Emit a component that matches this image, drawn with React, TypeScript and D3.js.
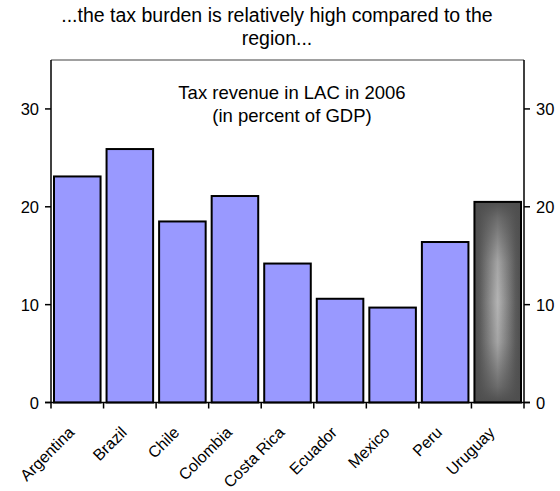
import React from "react";
import * as d3 from "d3";

const countries = ["Argentina", "Brazil", "Chile", "Colombia", "Costa Rica", "Ecuador", "Mexico", "Peru", "Uruguay"];
const taxRevenue = [23.1, 25.9, 18.5, 21.1, 14.2, 10.6, 9.7, 16.4, 20.5];
const yTicks = [0, 10, 20, 30];
const highlighted = "Uruguay";

const titleLines = ["...the tax burden is relatively high compared to the", "region..."];
const subtitleLines = ["Tax revenue in LAC in 2006", "(in percent of GDP)"];

const W = 560;
const H = 491;
const left = 51;
const right = 524;
const top = 60;
const bottom = 402.5;
const font = "Liberation Sans, Arial, sans-serif";

export default function App() {
  const x = d3.scaleBand<string>().domain(countries).range([left, right]);
  const y = d3.scaleLinear().domain([0, 35]).range([bottom, top]);
  const bw = x.bandwidth();
  const inset = 3;

  return (
    <svg width={W} height={H} style={{ position: "absolute", left: 0, top: 0, background: "#fff" }}>
      <defs>
        {/* grey fill for the highlighted bar: light centre column, darker sides and ends */}
        <linearGradient id="greyH" x1="0" x2="1" y1="0" y2="0">
          <stop offset="0" stopColor="#4e4e4e" />
          <stop offset="0.12" stopColor="#5c5c5c" />
          <stop offset="0.5" stopColor="#b4b4b4" />
          <stop offset="0.88" stopColor="#5c5c5c" />
          <stop offset="1" stopColor="#4e4e4e" />
        </linearGradient>
        <linearGradient id="greyV" x1="0" x2="0" y1="0" y2="1">
          <stop offset="0" stopColor="#4e4e4e" stopOpacity="1" />
          <stop offset="0.08" stopColor="#4e4e4e" stopOpacity="0.7" />
          <stop offset="0.3" stopColor="#4e4e4e" stopOpacity="0.15" />
          <stop offset="0.5" stopColor="#4e4e4e" stopOpacity="0" />
          <stop offset="0.7" stopColor="#4e4e4e" stopOpacity="0.15" />
          <stop offset="0.92" stopColor="#4e4e4e" stopOpacity="0.7" />
          <stop offset="1" stopColor="#4e4e4e" stopOpacity="1" />
        </linearGradient>
      </defs>
      <rect x={0} y={0} width={W} height={H} fill="#fff" />

      {titleLines.map((t, i) => (
        <text key={t} x={277} y={22 + i * 23} textAnchor="middle" fontFamily={font} fontSize={19.5} fill="#000">
          {t}
        </text>
      ))}

      <line x1={left} x2={right} y1={top} y2={top} stroke="#808080" strokeWidth={1.5} />

      {subtitleLines.map((t, i) => (
        <text key={t} x={292} y={99 + i * 23} textAnchor="middle" fontFamily={font} fontSize={18.5} fill="#000">
          {t}
        </text>
      ))}

      {countries.map((c, i) => {
        const x0 = (x(c) ?? 0) + inset;
        const w = bw - inset * 2;
        const yt = y(taxRevenue[i]);
        const h = bottom - yt;
        if (c !== highlighted) {
          return <rect key={c} x={x0} y={yt} width={w} height={h} fill="#9999ff" stroke="#000" strokeWidth={2} />;
        }
        return (
          <g key={c}>
            <rect x={x0} y={yt} width={w} height={h} fill="url(#greyH)" />
            <rect x={x0} y={yt} width={w} height={h} fill="url(#greyV)" />
            <rect x={x0} y={yt} width={w} height={h} fill="none" stroke="#000" strokeWidth={2} />
          </g>
        );
      })}

      <line x1={left} x2={left} y1={top} y2={bottom} stroke="#000" strokeWidth={1.5} />
      <line x1={right} x2={right} y1={top} y2={bottom} stroke="#000" strokeWidth={1.5} />
      <line x1={left - 6} x2={right + 6} y1={bottom} y2={bottom} stroke="#000" strokeWidth={1.5} />

      {yTicks.map((t) => (
        <g key={t}>
          <line x1={left - 6} x2={left} y1={y(t)} y2={y(t)} stroke="#000" strokeWidth={1.5} />
          <line x1={right} x2={right + 6} y1={y(t)} y2={y(t)} stroke="#000" strokeWidth={1.5} />
          <text x={39} y={y(t) + 6} textAnchor="end" fontFamily={font} fontSize={16.5} fill="#000">
            {t}
          </text>
          <text x={536} y={y(t) + 6} textAnchor="start" fontFamily={font} fontSize={16.5} fill="#000">
            {t}
          </text>
        </g>
      ))}

      {[...countries.map((c) => x(c) ?? 0), right].map((tx, i) => (
        <line key={i} x1={tx} x2={tx} y1={bottom} y2={bottom + 6} stroke="#000" strokeWidth={1.5} />
      ))}

      {countries.map((c) => {
        const cx = (x(c) ?? 0) + bw / 2 - 2;
        const cy = bottom + 31;
        return (
          <text key={c} x={cx} y={cy} textAnchor="end" transform={`rotate(-45 ${cx} ${cy})`} fontFamily={font} fontSize={16} fill="#000">
            {c}
          </text>
        );
      })}
    </svg>
  );
}
